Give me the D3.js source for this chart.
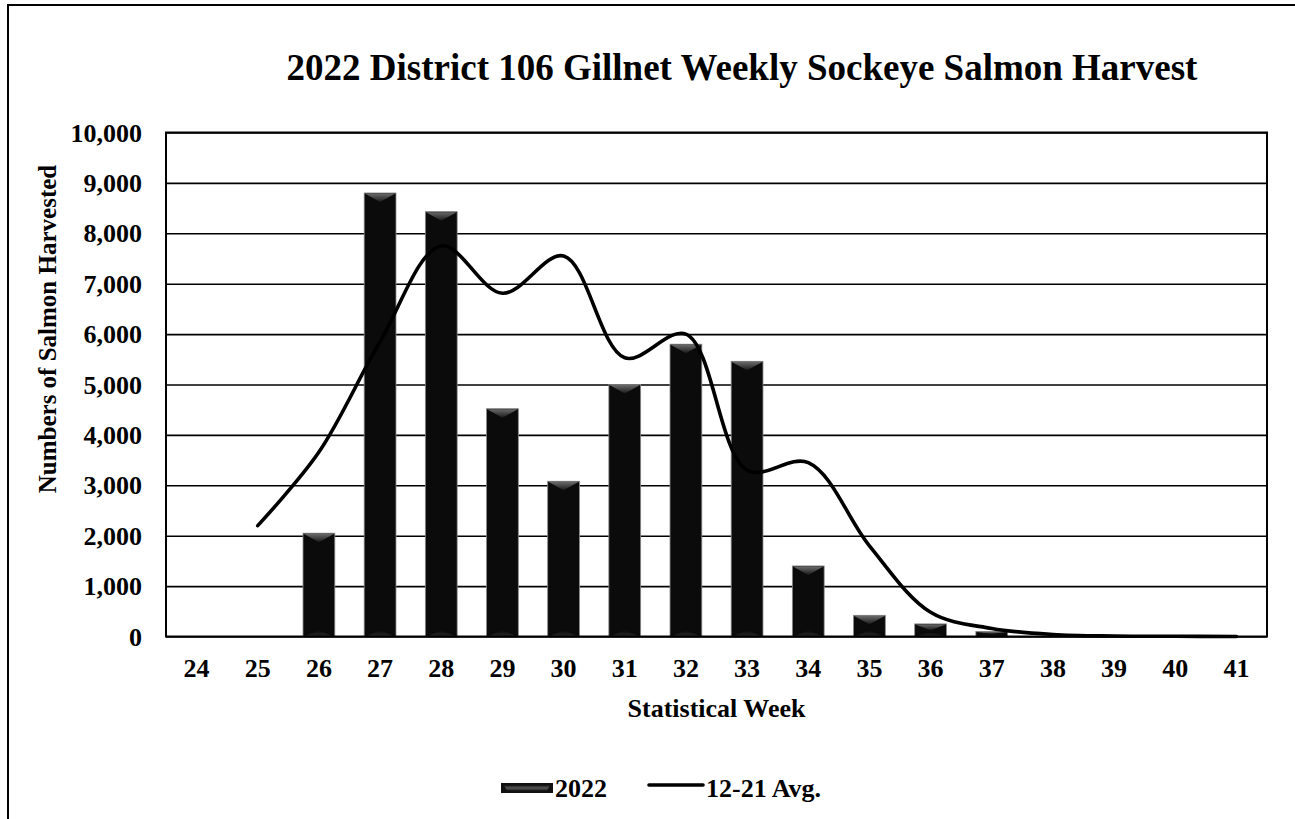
<!DOCTYPE html>
<html>
<head>
<meta charset="utf-8">
<script src="https://cdn.jsdelivr.net/npm/d3@7"></script>
<style>
  html, body { margin: 0; padding: 0; background: #fff; }
  svg { display: block; }
  text { font-family: "Liberation Serif", "Times New Roman", serif; font-weight: bold; fill: #000; }
</style>
</head>
<body>
<svg id="chart" width="1295" height="819"></svg>
<script>
// ---- data ----
const weeks = ["24","25","26","27","28","29","30","31","32","33","34","35","36","37","38","39","40","41"];
const harvest2022 = [0, 0, 2050, 8800, 8430, 4520, 3080, 5000, 5800, 5460, 1400, 420, 250, 100, 0, 0, 0, 0];
const avg1221 = [null, 2200, 3660, 5850, 7750, 6810, 7550, 5530, 6000, 3300, 3450, 1800, 480, 160, 40, 10, 5, 0];
const yTicks = [0, 1000, 2000, 3000, 4000, 5000, 6000, 7000, 8000, 9000, 10000];
const titleText = "2022 District 106 Gillnet Weekly Sockeye Salmon Harvest";
const xTitle = "Statistical Week";
const yTitle = "Numbers of Salmon Harvested";
const seriesNames = ["2022", "12-21 Avg."];

// ---- layout ----
const W = 1295, H = 819;
const plot = { left: 166, top: 132.5, right: 1267, bottom: 636.5 };

const svg = d3.select("#chart");

// outer chart border (extends past the right/bottom edges of the picture)
svg.append("rect")
  .attr("x", 8).attr("y", 5).attr("width", W + 20).attr("height", H + 20)
  .attr("fill", "#fff").attr("stroke", "#000").attr("stroke-width", 2);

const x = d3.scaleBand().domain(weeks).range([plot.left, plot.right]).paddingInner(0).paddingOuter(0);
const y = d3.scaleLinear().domain([0, 10000]).range([plot.bottom, plot.top]);

// defs: gradients for bevelled bars
const defs = svg.append("defs");
const gTop = defs.append("linearGradient").attr("id", "bevTop").attr("x1", 0).attr("y1", 0).attr("x2", 0).attr("y2", 1);
gTop.append("stop").attr("offset", "0%").attr("stop-color", "#6a6a6a");
gTop.append("stop").attr("offset", "100%").attr("stop-color", "#1a1a1a");
const gBot = defs.append("linearGradient").attr("id", "bevBot").attr("x1", 0).attr("y1", 1).attr("x2", 0).attr("y2", 0);
gBot.append("stop").attr("offset", "0%").attr("stop-color", "#2a2a2a");
gBot.append("stop").attr("offset", "100%").attr("stop-color", "#0b0b0b");
const gLeg = defs.append("linearGradient").attr("id", "bevLeg").attr("x1", 0).attr("y1", 0).attr("x2", 0).attr("y2", 1);
gLeg.append("stop").attr("offset", "0%").attr("stop-color", "#222");
gLeg.append("stop").attr("offset", "50%").attr("stop-color", "#555");
gLeg.append("stop").attr("offset", "100%").attr("stop-color", "#222");

// gridlines
svg.append("g")
  .attr("transform", `translate(${plot.left},0)`)
  .call(d3.axisLeft(y).tickValues(yTicks).tickSize(-(plot.right - plot.left)).tickFormat(""))
  .call(g => g.select(".domain").remove())
  .call(g => g.selectAll(".tick line").attr("stroke", "#000").attr("stroke-width", 1.6));

// y tick labels
svg.append("g")
  .attr("transform", `translate(${plot.left},0)`)
  .call(d3.axisLeft(y).tickValues(yTicks).tickSize(0).tickPadding(24).tickFormat(d3.format(",")))
  .call(g => g.select(".domain").remove())
  .call(g => g.selectAll(".tick text").style("font-size", "26px").style("font-family", "'Liberation Serif', serif").style("font-weight", "bold").attr("fill", "#000").attr("dy", "0.33em"));

// x tick labels
svg.append("g")
  .attr("transform", `translate(0,${plot.bottom})`)
  .call(d3.axisBottom(x).tickSize(0).tickPadding(22))
  .call(g => g.select(".domain").remove())
  .call(g => g.selectAll(".tick text").style("font-size", "26px").style("font-family", "'Liberation Serif', serif").style("font-weight", "bold").attr("fill", "#000").attr("dy", "0.71em"));

// bars
const barW = x.bandwidth() * 0.52;
const bars = svg.append("g");
weeks.forEach((w, i) => {
  const v = harvest2022[i];
  if (!v) return;
  const x0 = x(w) + (x.bandwidth() - barW) / 2;
  const x1 = x0 + barW;
  const yt = y(v), yb = y(0);
  const h = yb - yt;
  const bev = Math.min(9, h / 2);
  const g = bars.append("g");
  g.append("rect").attr("x", x0).attr("y", yt).attr("width", barW).attr("height", h)
    .attr("fill", "#0b0b0b").attr("stroke", "#8a8a8a").attr("stroke-width", 0.8);
  g.append("path")
    .attr("d", `M${x0 + 0.6},${yt + 0.6} L${x1 - 0.6},${yt + 0.6} L${(x0 + x1) / 2},${yt + bev} Z`)
    .attr("fill", "url(#bevTop)");
  const bb = Math.min(6, h / 3);
  g.append("path")
    .attr("d", `M${x0 + 0.6},${yb} L${x1 - 0.6},${yb} L${(x0 + x1) / 2},${yb - bb} Z`)
    .attr("fill", "url(#bevBot)");
});

// plot border
svg.append("rect")
  .attr("x", plot.left).attr("y", plot.top)
  .attr("width", plot.right - plot.left).attr("height", plot.bottom - plot.top)
  .attr("fill", "none").attr("stroke", "#000").attr("stroke-width", 2);

// average line (smoothed)
const line = d3.line()
  .defined(d => d.v !== null)
  .x(d => x(d.w) + x.bandwidth() / 2)
  .y(d => y(d.v))
  .curve(d3.curveCatmullRom.alpha(0.5));
svg.append("path")
  .datum(weeks.map((w, i) => ({ w, v: avg1221[i] })))
  .attr("d", line)
  .attr("fill", "none").attr("stroke", "#000").attr("stroke-width", 3.6)
  .attr("stroke-linecap", "round").attr("stroke-linejoin", "round");

// title
svg.append("text")
  .attr("x", 742).attr("y", 80).attr("text-anchor", "middle")
  .style("font-size", "37px").text(titleText);

// axis titles
svg.append("text")
  .attr("x", (plot.left + plot.right) / 2).attr("y", 717).attr("text-anchor", "middle")
  .style("font-size", "26px").text(xTitle);
svg.append("text")
  .attr("transform", `translate(56,329) rotate(-90)`).attr("text-anchor", "middle")
  .style("font-size", "25px").text(yTitle);

// legend
const leg = svg.append("g");
leg.append("rect").attr("x", 501).attr("y", 783).attr("width", 52).attr("height", 10).attr("fill", "#111");
leg.append("path").attr("d", "M504,785.5 L550,785.5 L547,790.5 L507,790.5 Z").attr("fill", "url(#bevLeg)");
leg.append("text").attr("x", 555).attr("y", 797).style("font-size", "26px").text(seriesNames[0]);
leg.append("line").attr("x1", 649).attr("x2", 703).attr("y1", 785).attr("y2", 785)
  .attr("stroke", "#000").attr("stroke-width", 3.6).attr("stroke-linecap", "round");
leg.append("text").attr("x", 706).attr("y", 797).style("font-size", "26px").text(seriesNames[1]);
</script>
</body>
</html>
